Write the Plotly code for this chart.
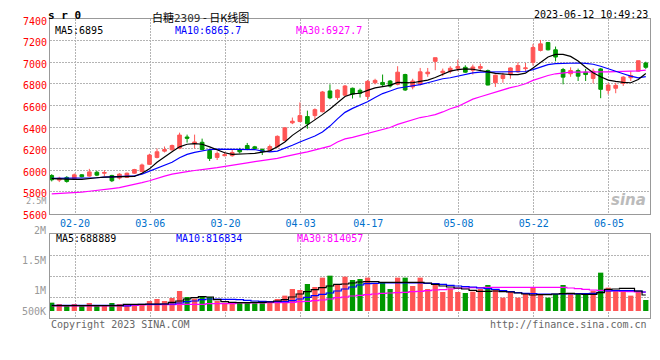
import pandas as pd
import plotly.graph_objects as go

# ---------------- data ----------------
HOLIDAYS = ["2023-04-05", "2023-05-01", "2023-05-02", "2023-05-03"]
DATES = [d for d in pd.bdate_range("2023-02-15", "2023-06-12")
         if d.strftime("%Y-%m-%d") not in HOLIDAYS]

OPEN = [5952, 5909, 5934, 5922, 5958, 5946, 5982, 5973, 5952, 5928,
        5934, 5973, 5988, 6055, 6119, 6177, 6189, 6205, 6308, 6247,
        6259, 6183, 6119, 6135, 6135, 6192, 6229, 6217, 6192, 6183,
        6217, 6275, 6439, 6451, 6497, 6506, 6542, 6734, 6673, 6695,
        6759, 6740, 6683, 6810, 6813, 6826, 6795, 6886, 6771, 6795,
        6893, 7008, 6902, 6917, 6944, 6953, 6926, 6944, 6923, 6810,
        6850, 6886, 6911, 6941, 6999, 7109, 7182, 7115, 6932, 6893,
        6923, 6908, 6850, 6938, 6740, 6759, 6804, 6856, 6917, 6993]
HIGH = [5964, 5940, 5946, 5970, 5964, 6013, 5995, 6001, 5958, 5973,
        5979, 6013, 6062, 6153, 6202, 6220, 6238, 6348, 6330, 6330,
        6293, 6192, 6174, 6171, 6192, 6208, 6253, 6226, 6202, 6238,
        6323, 6393, 6488, 6628, 6552, 6573, 6734, 6795, 6749, 6789,
        6765, 6756, 6835, 6847, 6886, 6835, 6963, 6893, 6847, 6947,
        6947, 7042, 6941, 6963, 7023, 6972, 6978, 6987, 6932, 6886,
        6902, 6953, 6999, 6993, 7167, 7206, 7188, 7145, 6947, 6953,
        6941, 6938, 6941, 6947, 6810, 6810, 6871, 6917, 7014, 7005]
LOW = [5897, 5891, 5885, 5912, 5934, 5940, 5946, 5946, 5891, 5915,
       5928, 5967, 5982, 6049, 6110, 6165, 6183, 6195, 6256, 6202,
       6186, 6086, 6095, 6129, 6126, 6156, 6186, 6189, 6141, 6177,
       6208, 6269, 6427, 6445, 6384, 6469, 6536, 6658, 6652, 6689,
       6664, 6673, 6652, 6795, 6780, 6765, 6786, 6734, 6749, 6786,
       6865, 6926, 6871, 6896, 6917, 6902, 6886, 6917, 6786, 6771,
       6810, 6847, 6902, 6917, 6969, 7100, 7109, 7008, 6795, 6865,
       6826, 6826, 6804, 6667, 6704, 6713, 6780, 6826, 6911, 6938]
CLOSE = [5912, 5927, 5897, 5958, 5940, 5985, 5955, 5979, 5903, 5964,
         5973, 6007, 6049, 6141, 6171, 6192, 6229, 6326, 6296, 6262,
         6192, 6110, 6156, 6144, 6165, 6171, 6198, 6202, 6174, 6220,
         6314, 6393, 6454, 6506, 6430, 6561, 6725, 6670, 6743, 6780,
         6704, 6713, 6823, 6832, 6792, 6780, 6908, 6743, 6826, 6911,
         6908, 7042, 6917, 6944, 6960, 6908, 6956, 6960, 6789, 6880,
         6880, 6947, 6969, 6947, 7136, 7170, 7115, 7048, 6862, 6923,
         6871, 6886, 6917, 6749, 6789, 6786, 6862, 6877, 7014, 6953]

MA5 = [5922, 5918, 5915, 5915, 5915, 5925, 5931, 5937, 5940, 5940,
       5940, 5943, 5973, 6013, 6074, 6125, 6171, 6217, 6241, 6247,
       6241, 6217, 6186, 6162, 6147, 6147, 6153, 6156, 6165, 6180,
       6217, 6262, 6323, 6369, 6421, 6469, 6515, 6567, 6628, 6683,
       6707, 6713, 6740, 6762, 6774, 6786, 6813, 6810, 6810, 6823,
       6835, 6859, 6886, 6917, 6932, 6938, 6935, 6926, 6911, 6896,
       6890, 6886, 6886, 6899, 6947, 6999, 7048, 7072, 7072, 7054,
       7011, 6953, 6902, 6865, 6835, 6823, 6813, 6810, 6840, 6895]
MA10 = [5925, 5925, 5925, 5925, 5925, 5925, 5931, 5937, 5940, 5943,
        5946, 5949, 5964, 5992, 6019, 6049, 6074, 6116, 6147, 6165,
        6180, 6192, 6195, 6195, 6195, 6195, 6198, 6192, 6177, 6171,
        6177, 6202, 6232, 6262, 6287, 6317, 6354, 6409, 6476, 6536,
        6573, 6600, 6634, 6673, 6710, 6734, 6759, 6771, 6780, 6792,
        6810, 6829, 6847, 6856, 6871, 6893, 6902, 6908, 6908, 6911,
        6911, 6911, 6911, 6914, 6932, 6953, 6978, 6987, 6990, 6993,
        6993, 6990, 6981, 6963, 6938, 6914, 6893, 6871, 6856, 6866]
MA30 = [5782, 5785, 5788, 5791, 5797, 5806, 5812, 5821, 5830, 5839,
        5855, 5864, 5885, 5903, 5928, 5946, 5964, 5979, 5988, 5998,
        6010, 6016, 6025, 6034, 6046, 6058, 6068, 6080, 6089, 6101,
        6110, 6126, 6138, 6156, 6171, 6186, 6202, 6223, 6262, 6290,
        6305, 6323, 6342, 6363, 6381, 6396, 6425, 6445, 6468, 6488,
        6500, 6515, 6540, 6570, 6591, 6628, 6658, 6680, 6701, 6725,
        6749, 6765, 6780, 6801, 6832, 6856, 6877, 6893, 6902, 6908,
        6908, 6911, 6911, 6911, 6911, 6911, 6914, 6917, 6920, 6927]

VOLUME = [639, 617, 600, 617, 600, 633, 600, 600, 633, 617,
          583, 617, 617, 667, 700, 667, 717, 833, 733, 706,
          750, 733, 667, 639, 644, 639, 650, 639, 667, 667,
          700, 756, 867, 850, 950, 900, 1056, 1089, 933, 1072,
          1017, 1033, 1056, 956, 972, 867, 1056, 1056, 917, 1056,
          867, 939, 817, 878, 817, 800, 822, 867, 933, 861,
          722, 833, 722, 783, 889, 783, 722, 783, 933, 794,
          783, 783, 839, 1139, 889, 850, 839, 756, 833, 683]  # thousands
VMA5 = [589, 589, 589, 589, 589, 589, 589, 589, 589, 589,
        611, 611, 611, 617, 617, 617, 644, 667, 700, 722,
        739, 733, 689, 656, 644, 639, 639, 644, 644, 650,
        667, 689, 733, 783, 822, 856, 889, 917, 944, 950,
        967, 983, 989, 989, 978, 978, 978, 978, 978, 978,
        967, 944, 917, 900, 883, 867, 844, 828, 828, 833,
        822, 817, 800, 783, 767, 772, 772, 783, 789, 794,
        783, 778, 778, 806, 861, 867, 878, 878, 833, 767]
VMA10 = [594, 594, 594, 594, 594, 594, 594, 594, 594, 594,
         583, 606, 611, 611, 611, 617, 617, 633, 656, 667,
         689, 700, 700, 694, 694, 689, 678, 667, 661, 656,
         656, 656, 672, 700, 728, 756, 778, 800, 833, 867,
         900, 933, 956, 961, 967, 967, 967, 967, 967, 967,
         961, 956, 944, 928, 917, 906, 900, 883, 872, 861,
         839, 822, 806, 794, 789, 783, 783, 783, 783, 783,
         789, 789, 794, 811, 833, 839, 839, 839, 833, 817]
VMA30 = [583, 583, 583, 583, 583, 583, 583, 583, 583, 583,
         589, 594, 600, 606, 606, 606, 606, 611, 611, 611,
         611, 622, 622, 622, 622, 633, 633, 633, 633, 639,
         639, 639, 644, 656, 661, 672, 683, 700, 722, 733,
         750, 761, 772, 783, 794, 800, 806, 811, 822, 828,
         839, 850, 856, 867, 878, 883, 889, 889, 894, 894,
         894, 894, 894, 894, 894, 894, 894, 894, 894, 883,
         872, 861, 850, 844, 839, 833, 828, 822, 817, 814]

TICK_LABELS = ["02-20", "03-06", "03-20", "04-03", "04-17", "05-08", "05-22", "06-05"]
PRICE_TICKS = [5600, 5800, 6000, 6200, 6400, 6600, 6800, 7000, 7200, 7400]
VOL_TICK_TEXT = ["2.5M", "2M", "1.5M", "1M", "500K"]

# ---------------- styling ----------------
# The page body has an 8px default margin, so the figure is placed at (8, 8)
# in the 660x360 window; all layout positions below are given in window pixels.
OFF = 8
W, H = 652, 344
UP, DN = "#FF5555", "#009900"
MONO = "DejaVu Sans Mono"
GRID = "#b4b4b4"
FRAME = "#999999"
VOL_BASE = 500000
VOL_LO, VOL_HI = 383333, 1783333

N = len(DATES)
xs = list(range(N))
labels = [d.strftime("%m-%d") for d in DATES]
tick_idx = [labels.index(t) + 0.1 for t in TICK_LABELS]
vol = [v * 1000 for v in VOLUME]
colors = [UP if c >= o else DN for o, c in zip(OPEN, CLOSE)]


def px_x(p):
    return (p - OFF) / W


def px_y(p):
    return 1 - (p - OFF) / H


fig = go.Figure()
fig.add_trace(go.Candlestick(
    x=xs, open=OPEN, high=HIGH, low=LOW, close=CLOSE,
    increasing=dict(line=dict(color=UP, width=1), fillcolor=UP),
    decreasing=dict(line=dict(color=DN, width=1), fillcolor=DN),
    whiskerwidth=0, showlegend=False, hoverinfo="skip", xaxis="x", yaxis="y"))
for arr, col in [(MA30, "#FF00FF"), (MA10, "#0000FF"), (MA5, "#000000")]:
    fig.add_trace(go.Scatter(x=xs, y=arr, mode="lines", line=dict(color=col, width=1.2),
                             showlegend=False, hoverinfo="skip", xaxis="x", yaxis="y"))

fig.add_trace(go.Bar(x=xs, y=[v - VOL_BASE for v in vol], base=VOL_BASE,
                     marker=dict(color=colors, line=dict(width=0)), width=0.7,
                     showlegend=False, hoverinfo="skip", xaxis="x2", yaxis="y2"))
for arr, col in [(VMA30, "#FF00FF"), (VMA10, "#0000FF"), (VMA5, "#000000")]:
    fig.add_trace(go.Scatter(x=xs, y=[v * 1000 for v in arr], mode="lines",
                             line=dict(color=col, width=1.2, shape="hvh"),
                             showlegend=False, hoverinfo="skip", xaxis="x2", yaxis="y2"))

xdom = [px_x(50), px_x(650)]
xrange_ = [-0.23, N - 1 + 0.56]
common_x = dict(domain=xdom, range=xrange_, tickvals=tick_idx, showgrid=True,
                gridcolor=GRID, griddash="2px,1px", gridwidth=1, showline=True,
                mirror=True, linecolor=FRAME, linewidth=1, ticks="", zeroline=False,
                fixedrange=True)
vq = [VOL_LO + (VOL_HI - VOL_LO) * q for q in (0.25, 0.5, 0.75)]

fig.update_layout(
    width=W, height=H, margin=dict(l=0, r=0, t=0, b=0, autoexpand=False),
    paper_bgcolor="white", plot_bgcolor="white",
    xaxis=dict(**common_x, anchor="y", ticktext=TICK_LABELS,
               tickfont=dict(family=MONO, size=10, color="#0070CC"),
               rangeslider=dict(visible=False)),
    yaxis=dict(domain=[px_y(213.5), px_y(19)], range=[5600, 7400], tickvals=PRICE_TICKS,
               showgrid=True, gridcolor=GRID, griddash="2px,1px", gridwidth=1,
               showline=True, mirror=True, linecolor=FRAME, linewidth=1, ticks="",
               zeroline=False, ticklabelshift=2,
               tickfont=dict(family=MONO, size=10, color="#FF0000"), anchor="x"),
    xaxis2=dict(**common_x, anchor="y2", showticklabels=False),
    yaxis2=dict(domain=[px_y(318), px_y(234)], range=[VOL_LO, VOL_HI], tickvals=vq,
                showticklabels=False, showgrid=True, gridcolor=GRID, griddash="2px,1px",
                gridwidth=1, showline=True, mirror=True, linecolor=FRAME, linewidth=1,
                ticks="", zeroline=False, anchor="x2"),
    showlegend=False,
)


def note(text, x, y, color="#000000", anchor="left", size=10, family=MONO,
         yanchor="middle", **kw):
    fig.add_annotation(text=text, x=px_x(x), y=px_y(y), xref="paper", yref="paper",
                       xanchor=anchor, yanchor=yanchor, showarrow=False,
                       font=dict(family=family, size=size, color=color), **kw)


# header line: anchored to the top edge of the figure so nothing is clipped
note("<b>s r 0</b>", 47, OFF, size=11, yanchor="top", borderpad=0)
note("白糖<span style='font-family:DejaVu Sans Mono;color:#333'>2309</span> - 日K线图",
     200, OFF, anchor="center", size=11, family="Noto Sans CJK SC", yanchor="top",
     borderpad=0)
note("2023-06-12 10:49:23", 649, OFF, anchor="right", yanchor="top", borderpad=0)

for txt, xx, col in [("MA5:6895", 54, "#000000"), ("MA10:6865.7", 174, "#0000FF"),
                     ("MA30:6927.7", 295, "#FF00FF")]:
    note(txt, xx, 30, color=col, borderpad=0)

for txt, xx, col in [("MA5:688889", 54, "#000000"), ("MA10:816834", 174, "#0000FF"),
                     ("MA30:814057", 295, "#FF00FF")]:
    note(txt, xx, 238, color=col)

for txt, yy in zip(VOL_TICK_TEXT, [200.5, 230, 260, 290, 311]):
    note(txt, 47, yy, color="#999999", anchor="right", size=8.5 if txt == "2.5M" else 10,
         borderpad=0)

note("Copyright 2023 SINA.COM", 49, 324, color="#666666")
note("http://finance.sina.com.cn", 649, 324, color="#666666", anchor="right")
note("<i><b>sina</b></i>", 648, 200, color="#bbbbbb", anchor="right", size=15,
     family="DejaVu Sans")

fig.write_html("out.html")
